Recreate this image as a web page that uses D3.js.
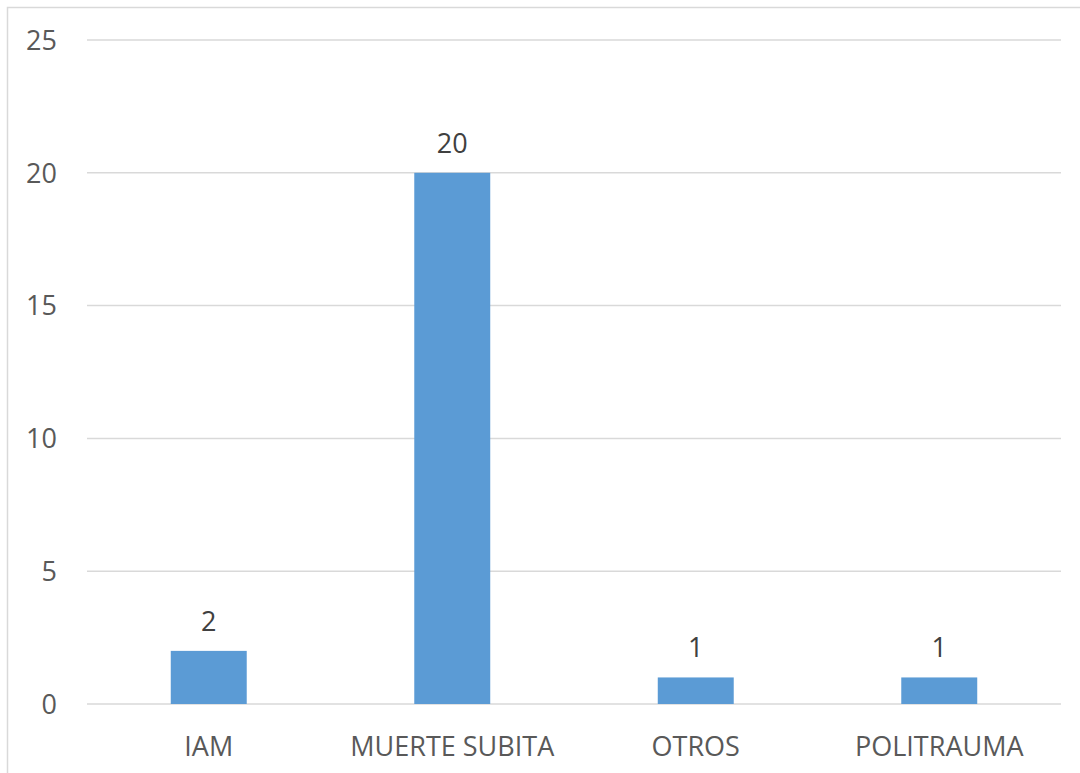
<!DOCTYPE html>
<html>
<head>
<meta charset="utf-8">
<script src="https://cdn.jsdelivr.net/npm/d3@7"></script>
<style>
  body { margin: 0; background: #fff; }
  text { font-family: "Open Sans", "Noto Sans", sans-serif; }
</style>
</head>
<body>
<script>
// Bar chart: causes, counts per category.
var categories = ['IAM', 'MUERTE SUBITA', 'OTROS', 'POLITRAUMA'],
    counts = [2, 20, 1, 1],
    yTicks = [0, 5, 10, 15, 20, 25];

var width = 1080,
    height = 773,
    fontSize = 27,
    margin = {left: 87, right: 19, top: 40, bottom: 69};

var svg = d3.select('body').append('svg')
    .attr('width', width)
    .attr('height', height);

// chart frame
svg.append('rect')
    .attr('x', 7.5)
    .attr('y', 7.5)
    .attr('width', width + 20)
    .attr('height', height + 20)
    .attr('fill', 'none')
    .attr('stroke', '#d9d9d9')
    .attr('stroke-width', 1.5);

var xs = d3.scaleBand()
    .domain(categories)
    .range([margin.left, width - margin.right])
    .paddingInner(0.688)
    .paddingOuter(0.344);

var ys = d3.scaleLinear()
    .domain([0, 25])
    .range([height - margin.bottom, margin.top]);

// gridlines
svg.append('g')
    .selectAll('line')
    .data(yTicks)
    .enter()
    .append('line')
    .attr('x1', margin.left)
    .attr('x2', width - margin.right)
    .attr('y1', function(d) { return ys(d); })
    .attr('y2', function(d) { return ys(d); })
    .attr('stroke', '#d9d9d9')
    .attr('stroke-width', 1.5);

// y labels
svg.append('g')
    .selectAll('text')
    .data(yTicks)
    .enter()
    .append('text')
    .attr('x', 57)
    .attr('y', function(d) { return ys(d); })
    .attr('dy', '0.36em')
    .attr('text-anchor', 'end')
    .attr('font-size', fontSize)
    .attr('fill', '#595959')
    .text(function(d) { return d; });

// bars
svg.append('g')
    .selectAll('rect')
    .data(counts)
    .enter()
    .append('rect')
    .attr('x', function(d, i) { return xs(categories[i]); })
    .attr('y', function(d) { return ys(d); })
    .attr('width', xs.bandwidth())
    .attr('height', function(d) { return ys(0) - ys(d); })
    .attr('fill', '#5b9bd5');

// value labels
svg.append('g')
    .selectAll('text')
    .data(counts)
    .enter()
    .append('text')
    .attr('x', function(d, i) { return xs(categories[i]) + xs.bandwidth() / 2; })
    .attr('y', function(d) { return ys(d) - 20; })
    .attr('text-anchor', 'middle')
    .attr('font-size', fontSize)
    .attr('fill', '#404040')
    .text(function(d) { return d; });

// category labels
svg.append('g')
    .selectAll('text')
    .data(categories)
    .enter()
    .append('text')
    .attr('x', function(d) { return xs(d) + xs.bandwidth() / 2; })
    .attr('y', 756)
    .attr('text-anchor', 'middle')
    .attr('font-size', fontSize)
    .attr('fill', '#595959')
    .text(function(d) { return d; });
</script>
</body>
</html>
